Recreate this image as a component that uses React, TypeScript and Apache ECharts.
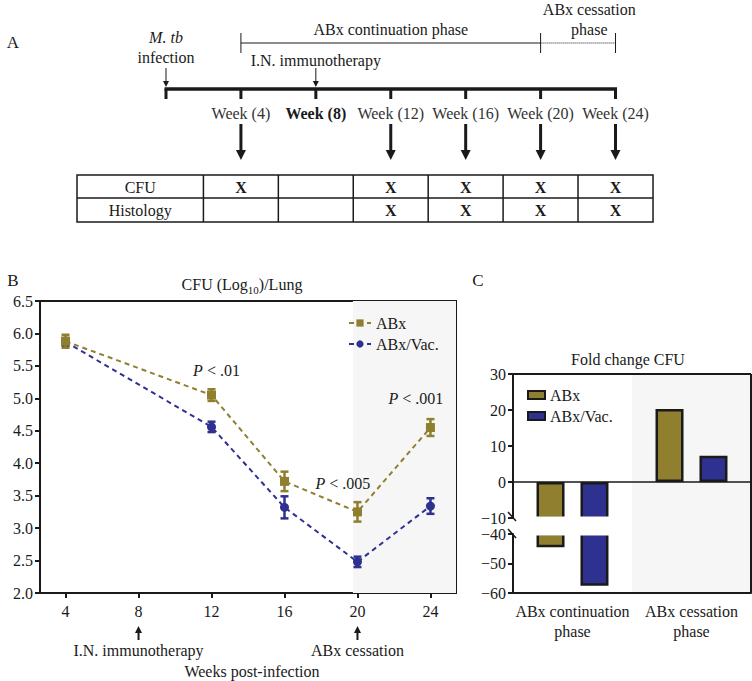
import React, { useEffect, useRef } from 'react';
import * as echarts from 'echarts';

// ---------- data ----------
const timelineWeeks = [0, 4, 8, 12, 16, 20, 24];
const sampleWeeks = [4, 8, 12, 16, 20, 24];
const cfuSampled = [true, false, true, true, true, true];
const histoSampled = [false, false, true, true, true, true];

const cfuWeeks = [4, 12, 16, 20, 24];
const abxMean = [5.88, 5.05, 3.72, 3.25, 4.55];
const abxErr = [0.1, 0.09, 0.15, 0.15, 0.13];
const vacMean = [5.87, 4.56, 3.32, 2.48, 3.34];
const vacErr = [0.06, 0.08, 0.17, 0.08, 0.12];
const weekTicks = [4, 8, 12, 16, 20, 24];
const cessationStart = 19.75;

const phases = ['ABx continuation\nphase', 'ABx cessation\nphase'];
const foldAbx = [-44.5, 20.3];
const foldVac = [-57.5, 7.3];

// ---------- styles ----------
const FONT = '"Liberation Serif", "DejaVu Serif", serif';
const OLIVE = '#8f7f2e';
const BLUE = '#2f3190';
const INK = '#1a1a1a';
const SHADE = '#f6f6f6';
const FS = 16;

const txt = (text: string, x: number, y: number, size = FS, extra: any = {}) => ({
  type: 'text',
  z: 50,
  style: {
    text,
    x,
    y,
    fill: extra.fill || INK,
    font: `${extra.weight || ''} ${extra.style || ''} ${size}px ${FONT}`.trim(),
    textAlign: extra.align || 'center',
    textVerticalAlign: 'middle',
    align: extra.align || 'center',
    verticalAlign: 'middle',
    ...(extra.rich ? { rich: extra.rich } : {}),
  },
});

const ln = (x1: number, y1: number, x2: number, y2: number, w = 1, extra: any = {}) => ({
  type: 'line',
  z: 50,
  shape: { x1, y1, x2, y2 },
  style: { stroke: extra.stroke || INK, lineWidth: w, lineDash: extra.dash || null },
});

const arrowDown = (x: number, y1: number, y2: number, w: number, hw: number, hh: number) => [
  ln(x, y1, x, y2 - hh + 1, w),
  { type: 'polygon', z: 50, shape: { points: [[x - hw, y2 - hh], [x + hw, y2 - hh], [x, y2]] }, style: { fill: INK } },
];
const arrowUp = (x: number, y1: number, y2: number, w: number, hw: number, hh: number) => [
  ln(x, y1, x, y2 + hh - 1, w),
  { type: 'polygon', z: 50, shape: { points: [[x - hw, y2 + hh], [x + hw, y2 + hh], [x, y2]] }, style: { fill: INK } },
];

// panel A geometry
const xA = (w: number) => 166 + w * 18.73;
const TL_Y = 89;
// panel B geometry (grid)
const GB = { left: 40, top: 301, width: 416, height: 292 };
const XB_MIN = 2.6;
const XB_MAX = 25.4;
const xB = (w: number) => GB.left + ((w - XB_MIN) / (XB_MAX - XB_MIN)) * GB.width;
// panel C geometry
const GC1 = { left: 513, top: 374, width: 238, height: 144 };
const GC2 = { left: 513, top: 534, width: 238, height: 59 };

const italicP = { i: { fontStyle: 'italic', fontSize: FS, fontFamily: FONT } };

function buildGraphics() {
  const g: any[] = [];
  // ---------- Panel A ----------
  g.push(txt('A', 13, 42, 17));
  g.push(txt('M. tb', xA(0), 37, FS, { style: 'italic' }));
  g.push(txt('infection', xA(0), 57, FS));
  g.push(...arrowDown(xA(0), 68, 87, 1, 3, 6));
  g.push(txt('I.N. immunotherapy', xA(8), 60, FS));
  g.push(...arrowDown(xA(8), 68, 87, 1, 3, 6));
  // phase brackets
  g.push(ln(xA(4), 43, xA(20), 43, 1));
  g.push(ln(xA(20), 43, xA(24), 43, 1, { dash: [1, 1] }));
  g.push(ln(xA(4), 33, xA(4), 53, 1));
  g.push(ln(xA(20), 33, xA(20), 53, 1));
  g.push(ln(xA(24), 33, xA(24), 53, 1));
  g.push(txt('ABx continuation phase', xA(12), 29, FS));
  g.push(txt('ABx cessation', xA(22.6), 9, FS));
  g.push(txt('phase', xA(22.6), 29, FS));
  // timeline
  g.push(ln(xA(0) - 1.5, TL_Y, xA(24) + 1.5, TL_Y, 3.5));
  timelineWeeks.forEach((w) => g.push(ln(xA(w), TL_Y, xA(w), TL_Y + 10, 3)));
  sampleWeeks.forEach((w, i) => {
    if (w === 8) {
      g.push(txt(`Week (${w})`, xA(w), 113, FS, { weight: 'bold' }));
    } else {
      g.push(txt(`Week (${w})`, xA(w), 113, FS, { fill: '#333' }));
    }
    if (cfuSampled[i]) g.push(...arrowDown(xA(w), 124, 160, 3, 5, 10));
  });
  // table
  const T_TOP = 175, T_MID = 198, T_BOT = 222, T_L = 77, T_R = xA(24) + 37.5;
  g.push({ type: 'rect', z: 50, shape: { x: T_L, y: T_TOP, width: T_R - T_L, height: T_BOT - T_TOP }, style: { fill: 'none', stroke: INK, lineWidth: 1.5 } });
  g.push(ln(T_L, T_MID, T_R, T_MID, 1.5));
  sampleWeeks.forEach((w) => g.push(ln(xA(w) - 37.5, T_TOP, xA(w) - 37.5, T_BOT, 1.5)));
  g.push(txt('CFU', (T_L + xA(4) - 37.5) / 2, 187, FS));
  g.push(txt('Histology', (T_L + xA(4) - 37.5) / 2, 210, FS));
  sampleWeeks.forEach((w, i) => {
    if (cfuSampled[i]) g.push(txt('X', xA(w), 187, 16, { weight: 'bold' }));
    if (histoSampled[i]) g.push(txt('X', xA(w), 210, 16, { weight: 'bold' }));
  });

  // ---------- Panel B ----------
  g.push(txt('B', 13, 280, 17));
  g.push(txt('{a|CFU (Log}{s|10}{a|)/Lung}', 242, 284, FS, {
    rich: {
      a: { fontSize: FS, fontFamily: FONT, fill: INK, color: INK, lineHeight: 19 },
      s: { fontSize: 11, fontFamily: FONT, fill: INK, color: INK, lineHeight: 19, verticalAlign: 'bottom', padding: [0, 0, -2, 0] },
    },
  }));
  g.push(txt('{i|P} < .01', xB(12) + 5, 370, FS, { rich: italicP }));
  g.push(txt('{i|P} < .005', xB(19.2), 483, FS, { rich: italicP }));
  g.push(txt('{i|P} < .001', xB(23.2), 398, FS, { rich: italicP }));
  g.push(...arrowUp(xB(8), 640, 626, 2, 3.5, 7));
  g.push(...arrowUp(xB(20), 640, 626, 2, 3.5, 7));
  g.push(txt('I.N. immunotherapy', xB(8), 650, FS));
  g.push(txt('ABx cessation', xB(20), 650, FS));
  g.push(txt('Weeks post-infection', 252, 671, FS));

  // ---------- Panel C ----------
  g.push(txt('C', 478, 280, 17));
  g.push(txt('Fold change CFU', 628, 359, FS));
  const mid = GC1.left + GC1.width / 2;
  const right = GC1.left + GC1.width;
  g.push({ type: 'rect', z: -10, shape: { x: mid, y: GC1.top, width: right - mid, height: GC2.top + GC2.height - GC1.top }, style: { fill: SHADE } });
  // white band hiding the cut edges of the broken bars
  g.push({ type: 'rect', z: 40, shape: { x: GC1.left + 2, y: GC1.top + GC1.height - 1.5, width: mid - GC1.left - 2, height: GC2.top - GC1.top - GC1.height + 3 }, style: { fill: '#ffffff' } });
  g.push(ln(GC1.left, GC1.top, right, GC1.top, 2));
  g.push(ln(right, GC1.top, right, GC2.top + GC2.height, 2));
  g.push(ln(GC1.left - 5, GC1.top + GC1.height - 6, GC1.left + 3, GC1.top + GC1.height + 3, 1.5));
  g.push(ln(GC1.left - 5, GC2.top - 5, GC1.left + 3, GC2.top + 4, 1.5));
  return g;
}

function errSeries(name: string, mean: number[], err: number[], color: string) {
  return {
    type: 'custom',
    name: name + '-err',
    xAxisIndex: 0,
    yAxisIndex: 0,
    silent: true,
    z: 4,
    data: cfuWeeks.map((w, i) => [w, mean[i] - err[i], mean[i] + err[i]]),
    encode: { x: 0, y: [1, 2] },
    renderItem: (params: any, api: any) => {
      const x = api.value(0);
      const lo = api.coord([x, api.value(1)]);
      const hi = api.coord([x, api.value(2)]);
      const hw = 4;
      const st = { stroke: color, lineWidth: 2.5 };
      return {
        type: 'group',
        children: [
          { type: 'line', shape: { x1: lo[0], y1: lo[1], x2: hi[0], y2: hi[1] }, style: st },
          { type: 'line', shape: { x1: lo[0] - hw, y1: lo[1], x2: lo[0] + hw, y2: lo[1] }, style: st },
          { type: 'line', shape: { x1: hi[0] - hw, y1: hi[1], x2: hi[0] + hw, y2: hi[1] }, style: st },
        ],
      };
    },
  };
}

const axisText = { fontFamily: FONT, fontSize: FS, color: INK };
const minus = (v: number) => String(v).replace('-', '\u2212');

export default function App() {
  const ref = useRef<HTMLDivElement>(null);
  useEffect(() => {
    if (!ref.current) return;
    const chart = echarts.init(ref.current, undefined, { renderer: 'svg' });
    const option: any = {
      animation: false,
      backgroundColor: '#ffffff',
      textStyle: { fontFamily: FONT },
      grid: [
        { ...GB, show: true, borderColor: INK, borderWidth: 2, backgroundColor: 'transparent' },
        { ...GC1 },
        { ...GC2 },
      ],
      xAxis: [
        {
          type: 'value', gridIndex: 0, min: XB_MIN, max: XB_MAX,
          axisLine: { lineStyle: { color: INK, width: 2 } },
          axisTick: { customValues: weekTicks, length: 5, lineStyle: { width: 2, color: INK } },
          axisLabel: { customValues: weekTicks, margin: 10, ...axisText },
          splitLine: { show: false },
        },
        {
          type: 'category', gridIndex: 1, data: phases,
          axisLine: { onZero: true, lineStyle: { color: INK, width: 1.5 } },
          axisTick: { show: false }, axisLabel: { show: false },
        },
        {
          type: 'category', gridIndex: 2, data: phases,
          axisLine: { onZero: false, lineStyle: { color: INK, width: 2 } },
          axisTick: { alignWithLabel: true, length: 5, lineStyle: { width: 2, color: INK } },
          axisLabel: { interval: 0, margin: 8, lineHeight: 20, hideOverlap: false, ...axisText },
        },
      ],
      yAxis: [
        {
          type: 'value', gridIndex: 0, min: 2, max: 6.5, interval: 0.5,
          axisLine: { show: true, lineStyle: { color: INK, width: 2 } },
          axisTick: { show: true, length: 5, lineStyle: { width: 2, color: INK } },
          axisLabel: { margin: 7, formatter: (v: number) => v.toFixed(1), ...axisText },
          splitLine: { show: false },
        },
        {
          type: 'value', gridIndex: 1, min: -10, max: 30, interval: 10,
          axisLine: { show: true, onZero: false, lineStyle: { color: INK, width: 2 } },
          axisTick: { show: true, length: 5, lineStyle: { width: 2, color: INK } },
          axisLabel: { margin: 7, formatter: minus, ...axisText },
          splitLine: { show: false },
        },
        {
          type: 'value', gridIndex: 2, min: -60, max: -40, interval: 10,
          axisLine: { show: true, onZero: false, lineStyle: { color: INK, width: 2 } },
          axisTick: { show: true, length: 5, lineStyle: { width: 2, color: INK } },
          axisLabel: { margin: 7, formatter: minus, ...axisText },
          splitLine: { show: false },
        },
      ],
      legend: [
        {
          data: ['ABx', 'ABx/Vac.'], orient: 'vertical', left: 343, top: 310,
          itemWidth: 22, itemHeight: 9, itemGap: 5, selectedMode: false,
          textStyle: { ...axisText },
        },
        {
          data: ['C-ABx', 'C-ABx/Vac.'], orient: 'vertical', left: 522, top: 382,
          itemWidth: 17, itemHeight: 8, itemGap: 5, selectedMode: false,
          icon: 'rect',
          formatter: (n: string) => n.replace('C-', ''),
          textStyle: { ...axisText },
        },
      ],
      series: [
        {
          type: 'line', name: 'ABx/Vac.', xAxisIndex: 0, yAxisIndex: 0, z: 3,
          data: cfuWeeks.map((w, i) => [w, vacMean[i]]),
          symbol: 'circle', symbolSize: 9,
          itemStyle: { color: BLUE },
          lineStyle: { color: BLUE, width: 2, type: [5, 4] },
        },
        errSeries('ABx/Vac.', vacMean, vacErr, BLUE),
        {
          type: 'line', name: 'ABx', xAxisIndex: 0, yAxisIndex: 0, z: 5,
          data: cfuWeeks.map((w, i) => [w, abxMean[i]]),
          symbol: 'rect', symbolSize: 9,
          itemStyle: { color: OLIVE },
          lineStyle: { color: OLIVE, width: 2, type: [5, 4] },
          markArea: {
            silent: true,
            itemStyle: { color: SHADE },
            data: [[{ xAxis: cessationStart }, { xAxis: XB_MAX }]],
          },
        },
        { ...errSeries('ABx', abxMean, abxErr, OLIVE), z: 6 },
        // panel C: upper segment
        {
          type: 'bar', name: 'C-ABx', xAxisIndex: 1, yAxisIndex: 1, data: foldAbx,
          barWidth: 28, barGap: '57%',
          itemStyle: { color: OLIVE, borderColor: INK, borderWidth: 2.5 },
        },
        {
          type: 'bar', name: 'C-ABx/Vac.', xAxisIndex: 1, yAxisIndex: 1, data: foldVac,
          barWidth: 28, barGap: '57%',
          itemStyle: { color: BLUE, borderColor: INK, borderWidth: 2.5 },
        },
        // panel C: lower segment (below the axis break)
        {
          type: 'bar', name: 'C-ABx', xAxisIndex: 2, yAxisIndex: 2, data: foldAbx,
          barWidth: 28, barGap: '57%',
          itemStyle: { color: OLIVE, borderColor: INK, borderWidth: 2.5 },
        },
        {
          type: 'bar', name: 'C-ABx/Vac.', xAxisIndex: 2, yAxisIndex: 2, data: foldVac,
          barWidth: 28, barGap: '57%',
          itemStyle: { color: BLUE, borderColor: INK, borderWidth: 2.5 },
        },
      ],
      graphic: buildGraphics(),
    };
    chart.setOption(option);
    return () => chart.dispose();
  }, []);
  return (
    <div
      ref={ref}
      style={{ position: 'absolute', left: 0, top: 0, width: 752, height: 681, background: '#fff' }}
    />
  );
}
